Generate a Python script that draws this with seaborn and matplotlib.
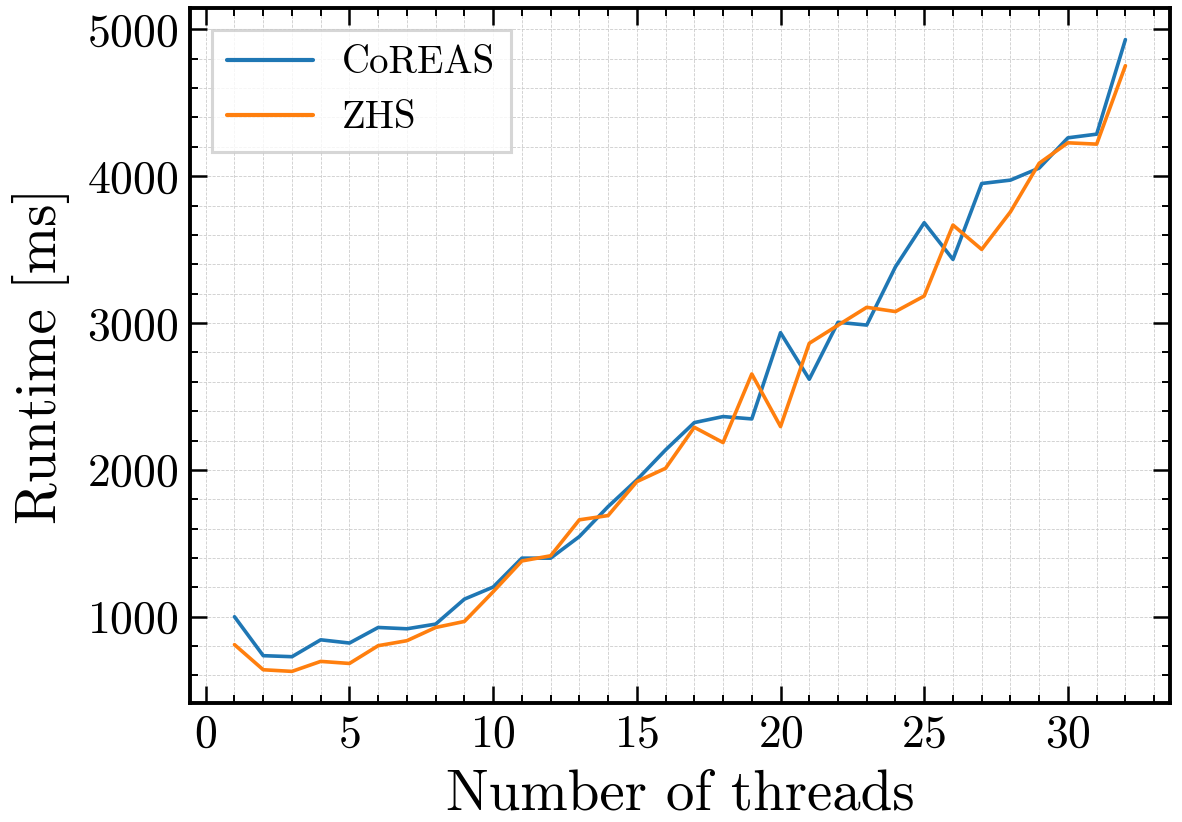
import numpy as np
import pandas as pd
import matplotlib
matplotlib.use("Agg")
import matplotlib.pyplot as plt
import seaborn as sns
from matplotlib.ticker import MultipleLocator

threads = list(range(1, 33))
coreas = [1000, 735, 728, 843, 821, 927, 918, 950, 1120, 1202,
          1399, 1399, 1546, 1750, 1932, 2136, 2322, 2363, 2347, 2934,
          2617, 3005, 2986, 3383, 3683, 3433, 3950, 3973, 4055, 4261,
          4286, 4930]
zhs = [810, 639, 628, 696, 682, 803, 837, 927, 968, 1170,
       1380, 1415, 1660, 1689, 1920, 2011, 2290, 2186, 2653, 2295,
       2862, 2985, 3107, 3078, 3184, 3667, 3501, 3757, 4088, 4227,
       4218, 4752]
series_names = ["CoREAS", "ZHS"]

df = pd.DataFrame({
    "threads": threads * 2,
    "runtime": coreas + zhs,
    "code": [series_names[0]] * len(threads) + [series_names[1]] * len(threads),
})

sns.set_style("ticks")
plt.rcParams.update({
    "font.family": "serif",
    "font.serif": ["cmr10", "DejaVu Serif"],
    "mathtext.fontset": "cm",
    "axes.formatter.use_mathtext": True,
    "axes.unicode_minus": False,
    "text.color": "black",
    "axes.labelcolor": "black",
    "xtick.color": "black",
    "ytick.color": "black",
})

fig = plt.figure(figsize=(11.82, 8.22), dpi=100)
ax = fig.add_axes([0.1607, 0.1448, 0.9898 - 0.1607, 0.9903 - 0.1448])

sns.lineplot(data=df, x="threads", y="runtime", hue="code",
             palette=["#1f77b4", "#ff7f0e"], linewidth=2.6, ax=ax)

ax.xaxis.set_major_locator(MultipleLocator(5))
ax.xaxis.set_minor_locator(MultipleLocator(1))
ax.yaxis.set_major_locator(MultipleLocator(1000))
ax.yaxis.set_minor_locator(MultipleLocator(200))

ax.grid(True, which="both", linestyle="--", linewidth=0.6, color="#cccccc")
ax.set_axisbelow(True)

ax.tick_params(which="both", direction="in", top=True, right=True,
               colors="black", labelcolor="black", width=1.8)
ax.tick_params(which="major", length=12, labelsize=33, pad=8)
ax.tick_params(which="minor", length=6, width=1.4)
for s in ax.spines.values():
    s.set_linewidth(2.8)
    s.set_color("black")

ax.set_xlabel("Number of threads", fontsize=41, labelpad=10, color="black")
ax.set_ylabel("Runtime [ms]", fontsize=41, labelpad=12, color="black")

leg = ax.legend(loc="upper left", fontsize=28, frameon=True, fancybox=False,
                handlelength=2.2, borderpad=0.4, labelspacing=0.5,
                handletextpad=0.75, borderaxespad=0.56)
leg.set_title(None)
leg.get_frame().set_edgecolor("#cccccc")
leg.get_frame().set_linewidth(2.2)
for line in leg.get_lines():
    line.set_linewidth(3)
for t in leg.get_texts():
    t.set_color("black")

fig.savefig("out.png", dpi=100)
